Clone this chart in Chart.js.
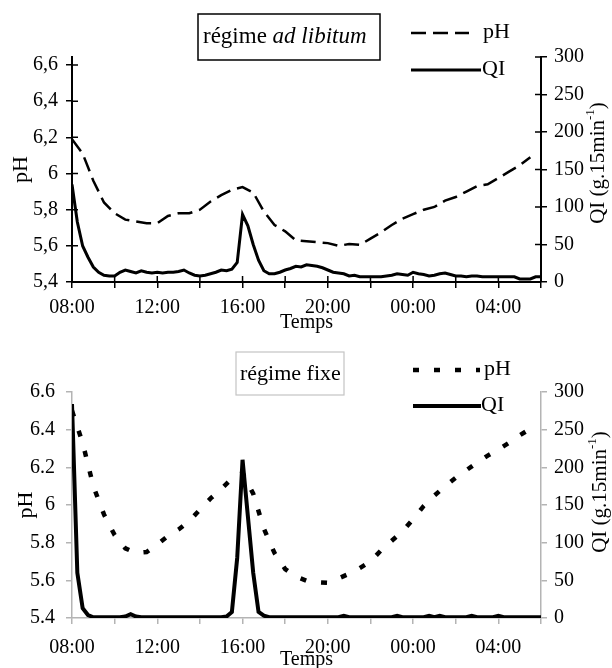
<!DOCTYPE html>
<html>
<head>
<meta charset="utf-8">
<script src="https://cdn.jsdelivr.net/npm/chart.js@4"></script>
<style>
  body{margin:0;background:#fff}
  canvas{display:block}
</style>
</head>
<body>
<canvas id="adlib" width="612" height="336"></canvas>
<canvas id="fixe" width="612" height="332"></canvas>
<script>
// time axis in hours since midnight of day 1 (08:00 -> 8, 06:00 next day -> 30)
const START_H = 8;
const QI_STEP_H = 0.25;   // QI is given per 15 min
const PH_STEP_H = 0.5;

// régime ad libitum
const PH_ADLIB = [6.19,6.11,5.96,5.84,5.78,5.745,5.735,5.725,5.725,5.765,
  5.78,5.78,5.80,5.845,5.88,5.91,5.925,5.895,5.79,5.715,
  5.68,5.63,5.625,5.62,5.615,5.60,5.61,5.605,5.64,5.675,
  5.715,5.75,5.775,5.80,5.815,5.85,5.87,5.90,5.93,5.94,
  5.975,6.01,6.045,6.09];
const QI_ADLIB = [130,80,48,33,20,13,9,8,8,13,
  16,14,12,15,13,12,13,12,13,13,
  14,16,12,9,8,9,11,13,16,15,
  17,26,90,75,50,29,15,11,11,13,
  16,18,21,20,23,22,21,19,16,13,
  12,11,8,9,7,7,7,7,7,8,
  9,11,10,9,13,11,10,8,9,11,
  12,10,8,8,7,8,8,7,7,7,
  7,7,7,7,4,4,4,7,7];

// régime fixe
const PH_FIXE = [6.50,6.33,6.10,5.95,5.84,5.77,5.745,5.75,5.79,5.835,
  5.87,5.915,5.975,6.035,6.085,6.14,6.17,6.06,5.875,5.745,
  5.66,5.62,5.598,5.59,5.587,5.61,5.635,5.665,5.70,5.76,
  5.81,5.86,5.925,5.995,6.05,6.10,6.145,6.185,6.225,6.262,
  6.295,6.33,6.37,6.405];
const QI_FIXE = [284,60,13,4,1,1,1,1,1,1,
  2,5,2,1,1,1,1,1,1,1,
  1,1,1,1,1,1,1,1,1,2,
  8,80,210,135,60,8,3,1,1,1,
  1,1,1,1,1,1,1,1,1,1,
  1,3,1,1,1,1,1,1,1,1,
  1,3,1,1,1,1,1,3,1,3,
  1,1,1,1,1,3,1,1,1,1,
  3,1,1,1,1,1,1,1,1];

const PH_TICKS = {min:5.4, max:6.6, step:0.2};
const QI_TICKS = {min:0, max:300, step:50};

const SERIF = "'Liberation Serif', 'Times New Roman', serif";

const toXY = (arr, step) => arr.map((v, i) => ({x: START_H + i*step, y: v}));
const hourLabel = v => (v % 4 === 0 && v < 30) ? String(v % 24).padStart(2,'0') + ':00' : '';
const phLabel = dec => v => { const s = Number(v.toFixed(1)); return s === 6 ? '6' : s.toFixed(1).replace('.', dec); };

// box title, legend, right-hand axis title, inner half of the ticks
const decor = {
  id: 'decor',
  afterDraw(chart, _a, o) {
    const {ctx, chartArea: a} = chart;
    ctx.save();
    if (o.innerTick) {
      const {x, y, y1} = chart.scales;
      ctx.strokeStyle = o.ink; ctx.lineWidth = 1.5; ctx.beginPath();
      x.ticks.forEach((_, i) => { const p = x.getPixelForTick(i); ctx.moveTo(p, a.bottom); ctx.lineTo(p, a.bottom - o.innerTick); });
      y.ticks.forEach((_, i) => { const p = y.getPixelForTick(i); ctx.moveTo(a.left, p); ctx.lineTo(a.left + o.innerTick, p); });
      y1.ticks.forEach((_, i) => { const p = y1.getPixelForTick(i); ctx.moveTo(a.right, p); ctx.lineTo(a.right - o.innerTick, p); });
      ctx.stroke();
    }
    const b = o.box;
    ctx.strokeStyle = b.color; ctx.lineWidth = b.width;
    ctx.strokeRect(b.x, b.y, b.w, b.h);
    ctx.fillStyle = '#000'; ctx.textBaseline = 'middle'; ctx.textAlign = 'left';
    let tx = b.tx;
    b.parts.forEach(p => {
      ctx.font = (p.italic ? 'italic ' : '') + b.size + 'px ' + SERIF;
      ctx.fillText(p.text, tx, b.ty);
      tx += ctx.measureText(p.text).width;
    });

    chart.data.datasets.forEach((ds, i) => {
      const L = o.legend.items[i];
      ctx.setLineDash(ds.borderDash || []);
      ctx.lineWidth = ds.borderWidth; ctx.strokeStyle = ds.borderColor;
      ctx.beginPath(); ctx.moveTo(L.x0, L.y); ctx.lineTo(L.x1, L.y); ctx.stroke();
      ctx.setLineDash([]);
      ctx.font = o.legend.size + 'px ' + SERIF;
      ctx.fillText(ds.label, L.tx, L.y - 1);
    });

    const r = o.rightTitle;
    const main = r.size + 'px ' + SERIF, small = Math.round(r.size*0.6) + 'px ' + SERIF;
    const parts = [[r.text, main, 0], [r.sup, small, -r.size*0.35], [r.after, main, 0]];
    let w = 0;
    parts.forEach(p => { ctx.font = p[1]; w += ctx.measureText(p[0]).width; });
    ctx.translate(r.x, r.y); ctx.rotate(-Math.PI/2);
    let px = -w/2;
    parts.forEach(p => { ctx.font = p[1]; ctx.fillText(p[0], px, p[2]); px += ctx.measureText(p[0]).width; });
    ctx.restore();
  }
};

function makeChart(id, c) {
  const ink = c.ink;
  const tickFont = {family: SERIF, size: 20};
  return new Chart(document.getElementById(id), {
    type: 'line',
    data: {datasets: [
      {label:'pH', data: toXY(c.ph, PH_STEP_H), yAxisID:'y', borderColor:'#000', borderWidth:c.phWidth, borderDash:c.phDash, pointRadius:0, tension:0},
      {label:'QI', data: toXY(c.qi, QI_STEP_H), yAxisID:'y1', borderColor:'#000', borderWidth:c.qiWidth, pointRadius:0, tension:0},
    ]},
    plugins: [decor],
    options: {
      responsive: false, animation: false,
      layout: {padding: {top: c.top, left: 0, right: 0, bottom: 0}},
      plugins: {legend:{display:false}, tooltip:{enabled:false}, decor: c.decor},
      scales: {
        x: {type:'linear', min:8, max:30,
          afterFit: s => { s.height = c.xHeight; },
          ticks: {stepSize:2, autoSkip:false, maxRotation:0, padding:c.xPad, color:'#000', font:tickFont, callback:hourLabel},
          grid: {drawOnChartArea:false, tickLength:6, color:ink, lineWidth:1.5},
          border: {color:ink, width:c.axisWidth},
          title: {display:true, text:'Temps', color:'#000', font:{family:SERIF, size:20}, padding:{top:0, bottom:c.titlePad}}},
        y: {position:'left', min:PH_TICKS.min, max:c.phMax,
          afterFit: s => { s.width = 72; },
          ticks: {stepSize:PH_TICKS.step, includeBounds:false, padding:c.yPad, color:'#000', font:tickFont, callback:phLabel(c.dec)},
          grid: {drawOnChartArea:false, tickLength:6, color:ink, lineWidth:1.5},
          border: {color:ink, width:c.axisWidth},
          title: {display:true, text:'pH', color:'#000', font:{family:SERIF, size:22}, padding:{top:c.phTitlePad}}},
        y1: {position:'right', min:QI_TICKS.min, max:QI_TICKS.max,
          afterFit: s => { s.width = 71; },
          ticks: {stepSize:QI_TICKS.step, padding:7, color:'#000', font:tickFont},
          grid: {drawOnChartArea:false, tickLength:6, color:ink, lineWidth:1.5},
          border: {color:ink, width:c.axisWidth}}
      }
    }
  });
}

makeChart('adlib', {
  ph: PH_ADLIB, qi: QI_ADLIB, ink:'#000', axisWidth:2,
  phWidth:2.5, phDash:[15,7], qiWidth:3,
  top:57, phMax: PH_TICKS.min + (PH_TICKS.max - PH_TICKS.min)*225/217,
  xHeight:54, xPad:8, titlePad:1, yPad:8, phTitlePad:8, dec:',',
  decor: {
    ink:'#000', innerTick:6,
    box: {x:198, y:14, w:182, h:46, color:'#000', width:1.5, size:23, tx:203, ty:37,
          parts:[{text:'régime ', italic:false}, {text:'ad libitum', italic:true}]},
    legend: {size:22, items:[{x0:411, x1:469, y:33, tx:483}, {x0:411, x1:481, y:70, tx:482}]},
    rightTitle: {x:598, y:163, size:21, text:'QI (g.15min', sup:'-1', after:')'}
  }
});

makeChart('fixe', {
  ph: PH_FIXE, qi: QI_FIXE, ink:'#b4b4b4', axisWidth:1.5,
  phWidth:4.5, phDash:[6,15], qiWidth:4,
  top:56, phMax: PH_TICKS.max,
  xHeight:50, xPad:12, titlePad:-4, yPad:11, phTitlePad:13, dec:'.',
  decor: {
    ink:'#b4b4b4', innerTick:0,
    box: {x:236, y:16, w:108, h:43, color:'#c4c4c4', width:1.2, size:22, tx:240, ty:38,
          parts:[{text:'régime fixe', italic:false}]},
    legend: {size:22, items:[{x0:413, x1:480, y:34, tx:484}, {x0:413, x1:481, y:70, tx:481}]},
    rightTitle: {x:600, y:156, size:21, text:'QI (g.15min', sup:'-1', after:')'}
  }
});
</script>
</body>
</html>
